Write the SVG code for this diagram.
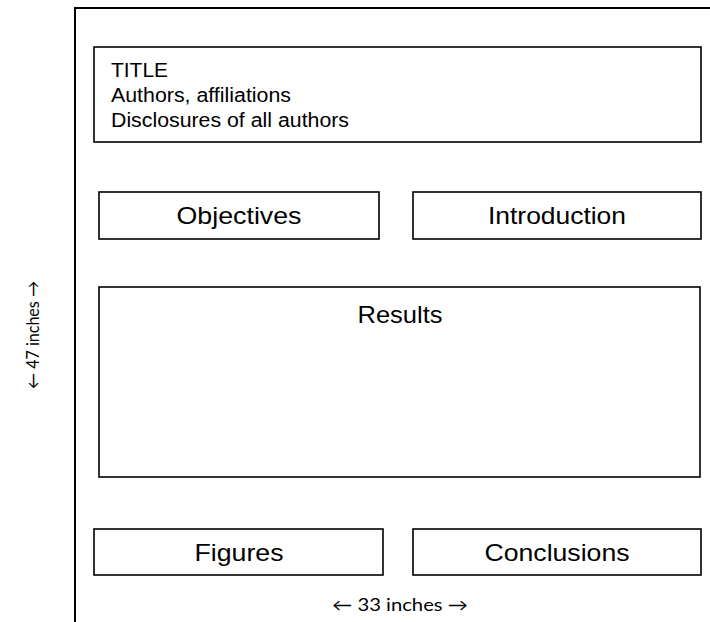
<svg xmlns="http://www.w3.org/2000/svg" width="710" height="622" viewBox="0 0 710 622">
<style>
.box{fill:#fff;stroke:#000;stroke-width:1.6}
.t{font-family:"Liberation Sans",Arial,sans-serif;fill:#000}
.big{font-size:24px;text-anchor:middle}
.small{font-size:20px}
.dim{font-family:Lato,"Open Sans",sans-serif;font-size:17px;fill:#000;text-anchor:middle}
</style>
<rect width="710" height="622" fill="#fff"/>
<g id="poster">
<path d="M75,622 V8 H712" fill="none" stroke="#000" stroke-width="2"/>
</g>
<g id="title">
<rect class="box" x="94" y="47" width="607" height="95"/>
<text class="t small" x="111" y="77" textLength="57" lengthAdjust="spacingAndGlyphs">TITLE</text>
<text class="t small" x="111" y="102" textLength="180" lengthAdjust="spacingAndGlyphs">Authors, affiliations</text>
<text class="t small" x="111" y="127" textLength="238" lengthAdjust="spacingAndGlyphs">Disclosures of all authors</text>
</g>
<g id="objectives">
<rect class="box" x="99" y="192" width="280" height="47"/>
<text class="t big" x="239" y="224" textLength="125" lengthAdjust="spacingAndGlyphs">Objectives</text>
</g>
<g id="introduction">
<rect class="box" x="413" y="192" width="288" height="47"/>
<text class="t big" x="557" y="224" textLength="138" lengthAdjust="spacingAndGlyphs">Introduction</text>
</g>
<g id="results">
<rect class="box" x="99" y="287" width="601" height="190"/>
<text class="t big" x="400" y="323" textLength="85" lengthAdjust="spacingAndGlyphs">Results</text>
</g>
<g id="figures">
<rect class="box" x="94" y="529" width="289" height="46"/>
<text class="t big" x="239" y="561" textLength="89" lengthAdjust="spacingAndGlyphs">Figures</text>
</g>
<g id="conclusions">
<rect class="box" x="413" y="529" width="288" height="46"/>
<text class="t big" x="557" y="561" textLength="145" lengthAdjust="spacingAndGlyphs">Conclusions</text>
</g>
<g id="connectors"></g>
<text class="dim" x="400" y="611" textLength="136" lengthAdjust="spacingAndGlyphs">← 33 inches →</text>
<text class="dim" transform="translate(39,335) rotate(-90)" textLength="108" lengthAdjust="spacingAndGlyphs">← 47 inches →</text>
</svg>
